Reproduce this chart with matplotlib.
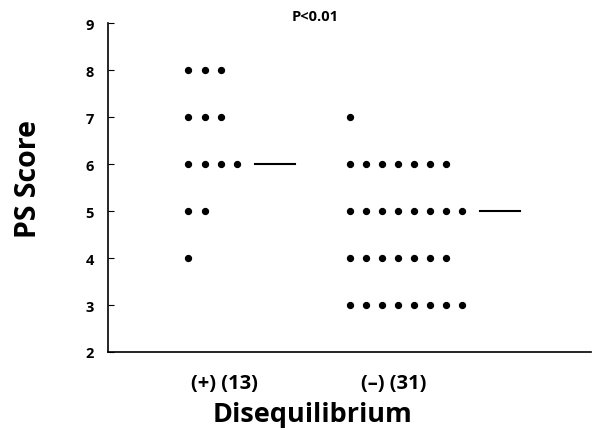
import numpy as np
import matplotlib.pyplot as plt

plt.rcParams["font.family"] = ["Open Sans", "DejaVu Sans"]

# PS scores per group (count of patients at each score)
scores = [8, 7, 6, 5, 4, 3]
counts_pos = [3, 3, 4, 2, 1, 0]   # Disequilibrium (+), n=13
counts_neg = [0, 1, 7, 8, 7, 8]   # Disequilibrium (-), n=31
group_labels = ["(+) (13)", "(\u2013) (31)"]
p_text = "P<0.01"

fig = plt.figure(figsize=(5.93, 4.31), dpi=100)
ax = fig.add_axes([0.182, 0.181, 0.815, 0.763])

starts = [1.0, 3.0]
step = 0.2
for start, counts in zip(starts, [counts_pos, counts_neg]):
    xs, ys = [], []
    for s, c in zip(scores, counts):
        for k in range(c):
            xs.append(start + k * step)
            ys.append(s)
    ax.scatter(xs, ys, s=18, color="black", zorder=3)
    vals = np.repeat(scores, counts)
    med = np.median(vals)
    x0 = start + (max(counts) - 1) * step + 0.22
    ax.plot([x0, x0 + 0.5], [med, med], color="black", lw=1.5)

ax.set_xlim(0, 6)
ax.set_ylim(2, 9)
ax.set_yticks(range(2, 10))
ax.set_xticks([1.45, 3.55])
ax.set_xticklabels(group_labels, fontsize=14.5, fontweight="bold")
ax.tick_params(axis="x", length=0, pad=15)
ax.tick_params(axis="y", direction="in", length=4, labelsize=10.5, pad=10)
for lab in ax.get_yticklabels():
    lab.set_fontweight("bold")
ax.spines["top"].set_visible(False)
ax.spines["right"].set_visible(False)
ax.spines["left"].set_linewidth(1.2)
ax.spines["bottom"].set_linewidth(1.2)

ax.set_ylabel("PS Score", fontsize=20.5, fontweight="bold")
ax.yaxis.set_label_coords(-0.135, 0.53)
ax.set_xlabel("Disequilibrium", fontsize=19.5, fontweight="bold")
ax.xaxis.set_label_coords(0.424, -0.15)
ax.text(2.57, 9.01, p_text, fontsize=10.5, fontweight="bold", ha="center", va="bottom")

fig.savefig("out.png", dpi=100)
